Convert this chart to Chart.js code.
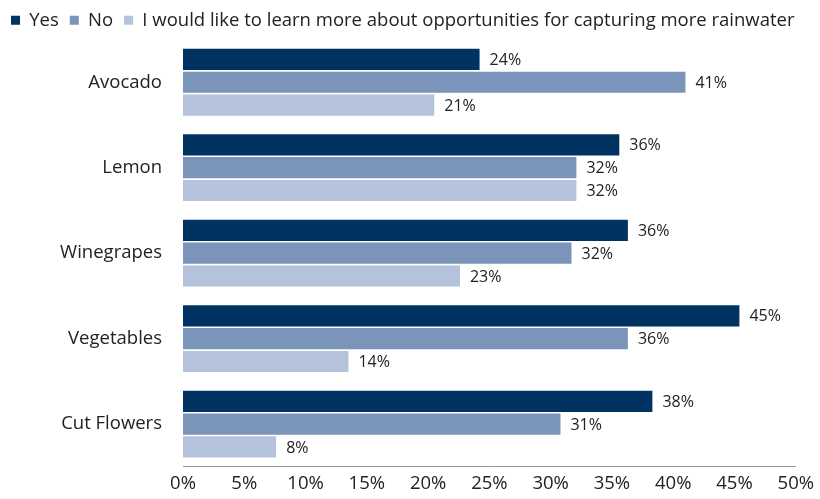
<!DOCTYPE html>
<html>
<head>
<meta charset="utf-8">
<script src="https://cdn.jsdelivr.net/npm/chart.js@4"></script>
<style>
  html, body { margin: 0; padding: 0; background: #fff; }
  #wrap { width: 820px; height: 499px; }
</style>
</head>
<body>
<div id="wrap"><canvas id="chart"></canvas></div>
<script>
const categories = ['Avocado', 'Lemon', 'Winegrapes', 'Vegetables', 'Cut Flowers'];
const seriesNames = ['Yes', 'No', 'I would like to learn more about opportunities for capturing more rainwater'];
const yesValues = [24.2, 35.6, 36.3, 45.4, 38.3];
const noValues = [41.0, 32.1, 31.7, 36.3, 30.8];
const learnValues = [20.5, 32.1, 22.6, 13.5, 7.6];
const xTicks = [0, 5, 10, 15, 20, 25, 30, 35, 40, 45, 50];

const colors = ['#003262', '#7b94b9', '#b4c3db'];
const fontFamily = "'Open Sans', 'Noto Sans', sans-serif";

// draws the % value just past the end of each bar
const barLabels = {
    id: 'barLabels',
    afterDatasetsDraw(chart) {
        const ctx = chart.ctx;
        ctx.save();
        ctx.font = '16px ' + fontFamily;
        ctx.fillStyle = '#222';
        ctx.textAlign = 'left';
        ctx.textBaseline = 'middle';
        chart.data.datasets.forEach(function (ds, i) {
            const meta = chart.getDatasetMeta(i);
            meta.data.forEach(function (bar, j) {
                ctx.fillText(Math.round(ds.data[j]) + '%', bar.x + 10, bar.y + 1);
            });
        });
        ctx.restore();
    }
};

new Chart(document.getElementById('chart'), {
    type: 'bar',
    data: {
        labels: categories,
        datasets: [
            { label: seriesNames[0], data: yesValues, backgroundColor: colors[0] },
            { label: seriesNames[1], data: noValues, backgroundColor: colors[1] },
            { label: seriesNames[2], data: learnValues, backgroundColor: colors[2] }
        ]
    },
    options: {
        indexAxis: 'y',
        responsive: true,
        maintainAspectRatio: false,
        animation: false,
        layout: { padding: { left: 0, right: 2, top: 0, bottom: 0 } },
        datasets: {
            bar: { categoryPercentage: 0.8, barPercentage: 0.93 }
        },
        plugins: {
            legend: {
                position: 'top',
                align: 'start',
                labels: {
                    boxWidth: 9,
                    boxHeight: 9,
                    padding: 11,
                    color: '#222',
                    font: { family: fontFamily, size: 18.5 }
                }
            },
            tooltip: { enabled: false }
        },
        scales: {
            x: {
                min: 0,
                max: 50,
                afterBuildTicks: function (axis) {
                    axis.ticks = xTicks.map(function (v) { return { value: v }; });
                },
                afterFit: function (axis) { axis.height = 26; },
                grid: { display: false, drawTicks: false },
                border: { display: true, color: '#999', width: 1 },
                ticks: {
                    padding: 6,
                    color: '#222',
                    font: { family: fontFamily, size: 18.5 },
                    callback: function (v) { return v + '%'; }
                }
            },
            y: {
                afterFit: function (axis) { axis.width = 183; },
                grid: { display: false, drawTicks: false },
                border: { display: false },
                ticks: {
                    padding: 21,
                    color: '#222',
                    font: { family: fontFamily, size: 18.5 }
                }
            }
        }
    },
    plugins: [barLabels]
});
</script>
</body>
</html>
